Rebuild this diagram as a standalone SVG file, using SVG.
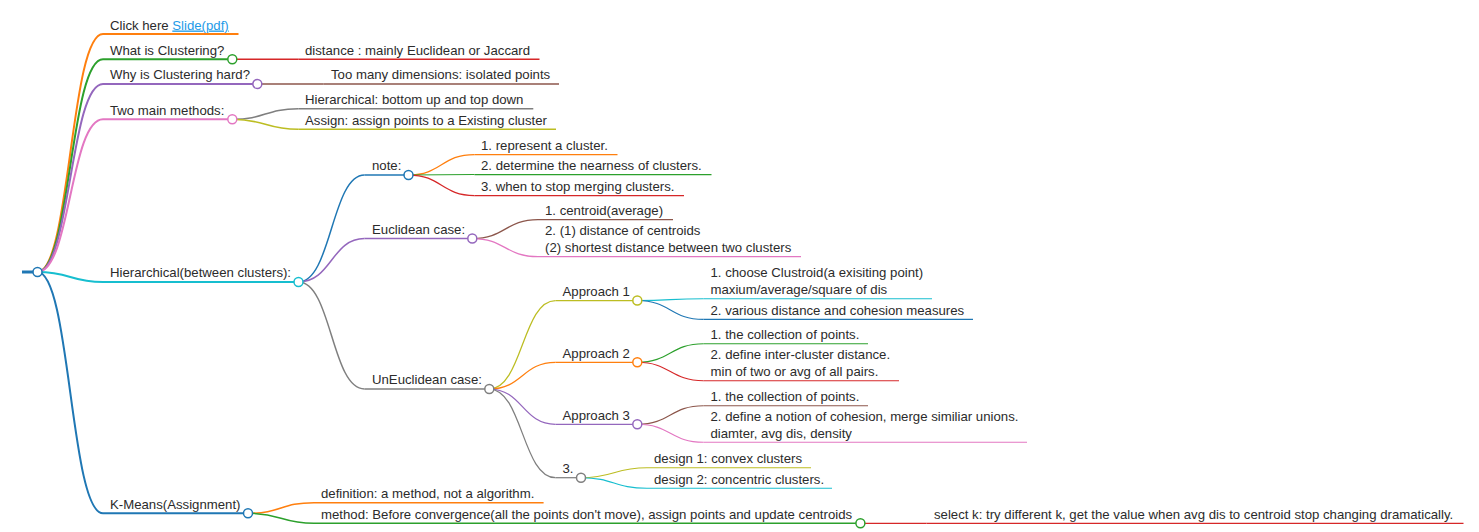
<svg xmlns="http://www.w3.org/2000/svg" width="1479" height="532" viewBox="0 0 1479 532">
<style>
text{font-family:"Liberation Sans",Arial,sans-serif;font-size:13.2px;fill:#2b2b2b}
.a{fill:#1e9be8;text-decoration:underline}
path,line{fill:none}
circle{fill:#fff;stroke-width:1.5}
.w0{stroke-width:3}.w1{stroke-width:2}.w2{stroke-width:1.5}.w3{stroke-width:1.25}.w4{stroke-width:1.1}
.blue{stroke:#1f77b4}.orange{stroke:#ff7f0e}.green{stroke:#2ca02c}.red{stroke:#d62728}.purple{stroke:#9467bd}
.brown{stroke:#8c564b}.pink{stroke:#e377c2}.gray{stroke:#7f7f7f}.olive{stroke:#bcbd22}.cyan{stroke:#17becf}
</style>
<rect width="1479" height="532" fill="#fff"/>
<g id="connectors">
<path class="w1 orange" d="M37.5,272 C70.3,272 70.3,34 103,34"/>
<path class="w1 green" d="M37.5,272 C70.3,272 70.3,59.3 103,59.3"/>
<path class="w1 purple" d="M37.5,272 C70.3,272 70.3,84 103,84"/>
<path class="w1 pink" d="M37.5,272 C70.3,272 70.3,119.3 103,119.3"/>
<path class="w1 cyan" d="M37.5,272 C70.3,272 70.3,282 103,282"/>
<path class="w1 blue" d="M37.5,272 C70.3,272 70.3,513.3 103,513.3"/>
<path class="w2 red" d="M232.3,59.3 L298.3,59.3"/>
<path class="w2 brown" d="M257.3,84 L323.3,84"/>
<path class="w2 gray" d="M232.3,119.3 C265.3,119.3 265.3,108.8 298.3,108.8"/>
<path class="w2 olive" d="M232.3,119.3 C265.3,119.3 265.3,129.3 298.3,129.3"/>
<path class="w2 blue" d="M298.5,282 C331.5,282 331.5,175 364.5,175"/>
<path class="w2 purple" d="M298.5,282 C331.5,282 331.5,238.5 364.5,238.5"/>
<path class="w2 gray" d="M298.5,282 C331.5,282 331.5,389 364.5,389"/>
<path class="w2 orange" d="M248,513.3 C281,513.3 281,502.7 314,502.7"/>
<path class="w2 green" d="M248,513.3 C281,513.3 281,523.3 314,523.3"/>
<path class="w3 orange" d="M408.5,175 C441.5,175 441.5,154.5 474.5,154.5"/>
<path class="w3 green" d="M408.5,175 L474.5,174.5"/>
<path class="w3 red" d="M408.5,175 C441.5,175 441.5,195.5 474.5,195.5"/>
<path class="w3 brown" d="M472.3,238.5 C505.2,238.5 505.2,219.7 538,219.7"/>
<path class="w3 pink" d="M472.3,238.5 C505.2,238.5 505.2,256.7 538,256.7"/>
<path class="w3 olive" d="M489.3,389 C522.4,389 522.4,300.5 555.5,300.5"/>
<path class="w3 orange" d="M489.3,389 C522.4,389 522.4,362.3 555.5,362.3"/>
<path class="w3 purple" d="M489.3,389 C522.4,389 522.4,424.3 555.5,424.3"/>
<path class="w3 gray" d="M489.3,389 C522.4,389 522.4,477.7 555.5,477.7"/>
<path class="w3 red" d="M860.4,523.3 L926.5,523.3"/>
<path class="w4 cyan" d="M637.3,300.5 C670.4,300.5 670.4,298.7 703.5,298.7"/>
<path class="w4 blue" d="M637.3,300.5 C670.4,300.5 670.4,319.4 703.5,319.4"/>
<path class="w4 green" d="M637.3,362.3 C670.4,362.3 670.4,343.7 703.5,343.7"/>
<path class="w4 red" d="M637.3,362.3 C670.4,362.3 670.4,380.7 703.5,380.7"/>
<path class="w4 brown" d="M637.3,424.3 C670.4,424.3 670.4,405.7 703.5,405.7"/>
<path class="w4 pink" d="M637.3,424.3 C670.4,424.3 670.4,442.3 703.5,442.3"/>
<path class="w4 olive" d="M581,477.7 C614,477.7 614,467.7 647,467.7"/>
<path class="w4 cyan" d="M581,477.7 C614,477.7 614,488.3 647,488.3"/>
</g>
<g id="root"><line class="w0 blue" x1="22" y1="272" x2="37.5" y2="272"/><circle class="blue" cx="37.5" cy="272" r="4.5"/></g>
<g id="n-click"><line class="w1 orange" x1="103" y1="34" x2="238.5" y2="34"/><text x="110" y="29.5">Click here <tspan class="a">Slide(pdf)</tspan></text></g>
<g id="n-what"><line class="w1 green" x1="103" y1="59.3" x2="232.3" y2="59.3"/><text x="110" y="54.5">What is Clustering?</text><circle class="green" cx="232.3" cy="59.3" r="4.5"/></g>
<g id="n-distance"><line class="w2 red" x1="298.3" y1="59.3" x2="539.5" y2="59.3"/><text x="305" y="54.5">distance : mainly Euclidean or Jaccard</text></g>
<g id="n-why"><line class="w1 purple" x1="103" y1="84" x2="257.3" y2="84"/><text x="110" y="79.2">Why is Clustering hard?</text><circle class="purple" cx="257.3" cy="84" r="4.5"/></g>
<g id="n-toomany"><line class="w2 brown" x1="323.3" y1="84" x2="559" y2="84"/><text x="331" y="79.2">Too many dimensions: isolated points</text></g>
<g id="n-two"><line class="w1 pink" x1="103" y1="119.3" x2="232.3" y2="119.3"/><text x="110" y="114.5">Two main methods:</text><circle class="pink" cx="232.3" cy="119.3" r="4.5"/></g>
<g id="n-bottomup"><line class="w2 gray" x1="298.3" y1="108.8" x2="533.3" y2="108.8"/><text x="305" y="104">Hierarchical: bottom up and top down</text></g>
<g id="n-assign"><line class="w2 olive" x1="298.3" y1="129.3" x2="556" y2="129.3"/><text x="305" y="124.5">Assign: assign points to a Existing cluster</text></g>
<g id="n-hier"><line class="w1 cyan" x1="103" y1="282" x2="298.5" y2="282"/><text x="110" y="277.2">Hierarchical(between clusters):</text><circle class="cyan" cx="298.5" cy="282" r="4.5"/></g>
<g id="n-note"><line class="w2 blue" x1="364.5" y1="175" x2="408.5" y2="175"/><text x="372" y="170.2">note:</text><circle class="blue" cx="408.5" cy="175" r="4.5"/></g>
<g id="n-note1"><line class="w3 orange" x1="474.5" y1="154.5" x2="617.5" y2="154.5"/><text x="481" y="149.7">1. represent a cluster.</text></g>
<g id="n-note2"><line class="w3 green" x1="474.5" y1="174.5" x2="711.5" y2="174.5"/><text x="481" y="169.7">2. determine the nearness of clusters.</text></g>
<g id="n-note3"><line class="w3 red" x1="474.5" y1="195.5" x2="684" y2="195.5"/><text x="481" y="190.7">3. when to stop merging clusters.</text></g>
<g id="n-eucl"><line class="w2 purple" x1="364.5" y1="238.5" x2="472.3" y2="238.5"/><text x="372" y="233.7">Euclidean case:</text><circle class="purple" cx="472.3" cy="238.5" r="4.5"/></g>
<g id="n-eucl1"><line class="w3 brown" x1="538" y1="219.7" x2="673" y2="219.7"/><text x="545" y="214.9">1. centroid(average)</text></g>
<g id="n-eucl2"><line class="w3 pink" x1="538" y1="256.7" x2="801" y2="256.7"/><text x="545" y="234.9">2. (1) distance of centroids</text><text x="545" y="252">(2) shortest distance between two clusters</text></g>
<g id="n-uneucl"><line class="w2 gray" x1="364.5" y1="389" x2="489.3" y2="389"/><text x="372" y="384.2">UnEuclidean case:</text><circle class="gray" cx="489.3" cy="389" r="4.5"/></g>
<g id="n-ap1"><line class="w3 olive" x1="555.5" y1="300.5" x2="637.3" y2="300.5"/><text x="562.5" y="295.7">Approach 1</text><circle class="olive" cx="637.3" cy="300.5" r="4.5"/></g>
<g id="n-ap1a"><line class="w4 cyan" x1="703.5" y1="298.7" x2="932" y2="298.7"/><text x="710.5" y="277">1. choose Clustroid(a exisiting point)</text><text x="710.5" y="294">maxium/average/square of dis</text></g>
<g id="n-ap1b"><line class="w4 blue" x1="703.5" y1="319.4" x2="973" y2="319.4"/><text x="710.5" y="314.6">2. various distance and cohesion measures</text></g>
<g id="n-ap2"><line class="w3 orange" x1="555.5" y1="362.3" x2="637.3" y2="362.3"/><text x="562.5" y="357.5">Approach 2</text><circle class="orange" cx="637.3" cy="362.3" r="4.5"/></g>
<g id="n-ap2a"><line class="w4 green" x1="703.5" y1="343.7" x2="868" y2="343.7"/><text x="710.5" y="338.9">1. the collection of points.</text></g>
<g id="n-ap2b"><line class="w4 red" x1="703.5" y1="380.7" x2="899" y2="380.7"/><text x="710.5" y="359">2. define inter-cluster distance.</text><text x="710.5" y="376">min of two or avg of all pairs.</text></g>
<g id="n-ap3"><line class="w3 purple" x1="555.5" y1="424.3" x2="637.3" y2="424.3"/><text x="562.5" y="419.5">Approach 3</text><circle class="purple" cx="637.3" cy="424.3" r="4.5"/></g>
<g id="n-ap3a"><line class="w4 brown" x1="703.5" y1="405.7" x2="868" y2="405.7"/><text x="710.5" y="400.9">1. the collection of points.</text></g>
<g id="n-ap3b"><line class="w4 pink" x1="703.5" y1="442.3" x2="1027" y2="442.3"/><text x="710.5" y="420.6">2. define a notion of cohesion, merge similiar unions.</text><text x="710.5" y="437.6">diamter, avg dis, density</text></g>
<g id="n-three"><line class="w3 gray" x1="555.5" y1="477.7" x2="581" y2="477.7"/><text x="562.5" y="472.9">3.</text><circle class="gray" cx="581" cy="477.7" r="4.5"/></g>
<g id="n-design1"><line class="w4 olive" x1="647" y1="467.7" x2="811" y2="467.7"/><text x="654" y="462.9">design 1: convex clusters</text></g>
<g id="n-design2"><line class="w4 cyan" x1="647" y1="488.3" x2="832" y2="488.3"/><text x="654" y="483.5">design 2: concentric clusters.</text></g>
<g id="n-kmeans"><line class="w1 blue" x1="103" y1="513.3" x2="248" y2="513.3"/><text x="110" y="508.5">K-Means(Assignment)</text><circle class="blue" cx="248" cy="513.3" r="4.5"/></g>
<g id="n-definition"><line class="w2 orange" x1="314" y1="502.7" x2="543.6" y2="502.7"/><text x="321" y="497.9">definition: a method, not a algorithm.</text></g>
<g id="n-method"><line class="w2 green" x1="314" y1="523.3" x2="860.4" y2="523.3"/><text x="321" y="518.5">method: Before convergence(all the points don't move), assign points and update centroids</text><circle class="green" cx="860.4" cy="523.3" r="4.5"/></g>
<g id="n-selectk"><line class="w3 red" x1="926.5" y1="523.3" x2="1463.5" y2="523.3"/><text x="934" y="518.5">select k: try different k, get the value when avg dis to centroid stop changing dramatically.</text></g>
</svg>
